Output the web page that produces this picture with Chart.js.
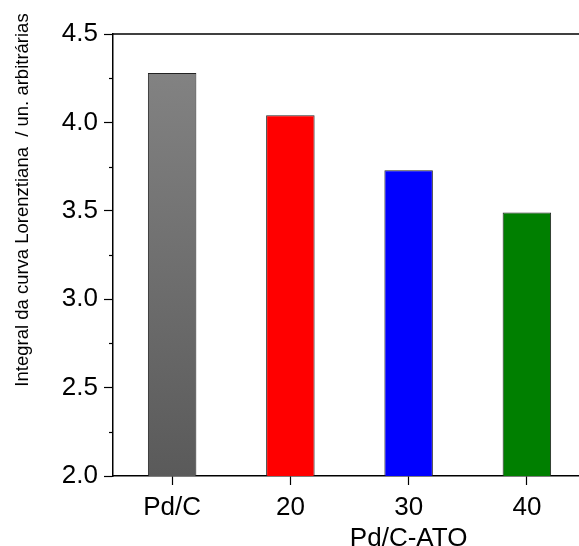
<!DOCTYPE html>
<html>
<head>
<meta charset="utf-8">
<script src="https://cdn.jsdelivr.net/npm/chart.js@4.4.0/dist/chart.umd.min.js"></script>
<style>
  html, body { margin: 0; padding: 0; background: #fff; overflow: hidden; }
</style>
</head>
<body>
<canvas id="myChart" width="600" height="546"></canvas>
<script>
var categories = ['Pd/C', '20', '30', '40'];
var values = [4.28, 4.04, 3.73, 3.49];
var barColors = ['gray-gradient', '#FF0000', '#0000FF', '#007F00'];
var yTitle = 'Integral da curva Lorenztiana  / un. arbitrárias';
var xTitle = 'Pd/C-ATO';
var minorTicks = [2.25, 2.75, 3.25, 3.75, 4.25];

var font = "'Liberation Sans', Arial, sans-serif";

// extra axis bits: frame top, minor ticks, titles
var extras = {
  id: 'extras',
  afterDraw: function (chart) {
    var c = chart.ctx;
    var a = chart.chartArea;
    var y = chart.scales.y;
    var x = chart.scales.x;
    c.save();
    c.strokeStyle = '#000';
    c.lineWidth = 1.5;
    c.beginPath();
    c.moveTo(a.left, a.top);
    c.lineTo(a.right, a.top);
    c.stroke();
    c.lineWidth = 1.2;
    minorTicks.forEach(function (v) {
      var py = Math.round(y.getPixelForValue(v)) + 0.5;
      c.beginPath();
      c.moveTo(a.left - 4, py);
      c.lineTo(a.left, py);
      c.stroke();
    });
    c.fillStyle = '#000';
    c.font = '26px ' + font;
    c.textAlign = 'center';
    c.textBaseline = 'alphabetic';
    c.fillText(xTitle, x.getPixelForValue(2), 546);
    c.translate(23, 200);
    c.rotate(-Math.PI / 2);
    c.font = '18.5px ' + font;
    c.textBaseline = 'middle';
    c.fillText(yTitle, 0, 0);
    c.restore();
  }
};

var ctx = document.getElementById('myChart').getContext('2d');
var myChart = new Chart(ctx, {
  type: 'bar',
  data: {
    labels: categories,
    datasets: [{
      data: values,
      backgroundColor: function (context) {
        var col = barColors[context.dataIndex];
        if (col !== 'gray-gradient') return col;
        var a = context.chart.chartArea;
        if (!a) return '#707070';
        var g = context.chart.ctx.createLinearGradient(0, a.top, 0, a.bottom);
        g.addColorStop(0, '#868686');
        g.addColorStop(1, '#5a5a5a');
        return g;
      },
      borderColor: '#222',
      borderWidth: 1,
      borderSkipped: false,
      categoryPercentage: 1,
      barPercentage: 0.41
    }]
  },
  options: {
    responsive: false,
    animation: false,
    layout: { padding: { top: 34, right: 14, left: 0, bottom: 0 } },
    plugins: {
      legend: { display: false },
      tooltip: { enabled: false }
    },
    scales: {
      x: {
        afterFit: function (s) { s.height = 70; },
        grid: {
          offset: false,
          drawOnChartArea: false,
          tickLength: 9,
          tickColor: '#000',
          tickWidth: 1.2
        },
        border: { color: '#000', width: 1.5 },
        ticks: {
          color: '#000',
          padding: 7,
          font: { family: font, size: 26 }
        }
      },
      y: {
        min: 2.0,
        max: 4.5,
        afterFit: function (s) { s.width = 113; },
        grid: {
          drawOnChartArea: false,
          tickLength: 9,
          tickColor: '#000',
          tickWidth: 1.2
        },
        border: { color: '#000', width: 1.5 },
        ticks: {
          stepSize: 0.5,
          color: '#000',
          padding: 6,
          font: { family: font, size: 26 },
          callback: function (v) { return v.toFixed(1); }
        }
      }
    }
  },
  plugins: [extras]
});
</script>
</body>
</html>
